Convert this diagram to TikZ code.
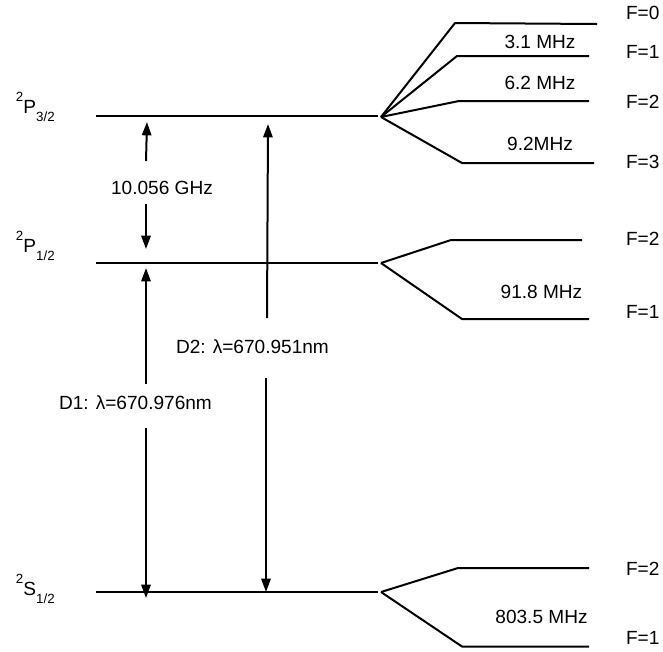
\documentclass[tikz,border=0pt]{standalone}
\usepackage{fontspec}
\setmainfont{Liberation Sans}
\usetikzlibrary{arrows.meta}

\newcommand{\term}[3]{\raisebox{0.6em}{\fontsize{10}{11}\selectfont #1}#2\raisebox{-0.42em}{\fontsize{10}{11}\selectfont #3}}

\begin{document}
\begin{tikzpicture}[x=0.75pt, y=-0.75pt, >={Triangle[length=10pt,width=7pt]},
    line width=1.5pt, line join=round,
    lbl/.style={inner sep=0pt, font=\fontsize{14.3}{16}\selectfont},
    flbl/.style={lbl, anchor=west},
    termlbl/.style={lbl, anchor=base west}]
  \useasboundingbox (0,0) rectangle (663,651);

  % fine structure levels
  \coordinate (p32a) at (96,116);  \coordinate (p32b) at (378,116);
  \coordinate (p12a) at (96,263);  \coordinate (p12b) at (378,263);
  \coordinate (s12a) at (96,592);  \coordinate (s12b) at (378,592);
  \draw (p32a) -- (p32b);
  \draw (p12a) -- (p12b);
  \draw (s12a) -- (s12b);

  \node[termlbl] (p32) at (15,113) {\term{2}{P}{3/2}};
  \node[termlbl] (p12) at (15,252) {\term{2}{P}{1/2}};
  \node[termlbl] (s12) at (15,595) {\term{2}{S}{1/2}};

  % hyperfine splitting of 2P3/2
  \coordinate (p32fan) at (381,117);
  \coordinate (p32F0a) at (455,23);  \coordinate (p32F0b) at (597,24);
  \coordinate (p32F1a) at (457,56);  \coordinate (p32F1b) at (589,56);
  \coordinate (p32F2a) at (459,101); \coordinate (p32F2b) at (589,101);
  \coordinate (p32F3a) at (462,163); \coordinate (p32F3b) at (594,163);
  \foreach \f in {0,...,3}{\draw (p32fan) -- (p32F\f a) -- (p32F\f b);}
  \node[flbl] (p32F0) at (625,12.5) {F=0};
  \node[flbl] (p32F1) at (625,52) {F=1};
  \node[flbl] (p32F2) at (625,102) {F=2};
  \node[flbl] (p32F3) at (625,162) {F=3};
  \node[lbl] (hfa) at (540,41.5) {3.1 MHz};
  \node[lbl] (hfb) at (540,83) {6.2 MHz};
  \node[lbl] (hfc) at (540,143.5) {9.2MHz};

  % hyperfine splitting of 2P1/2
  \coordinate (p12fan) at (381,263);
  \coordinate (p12F2a) at (451,240); \coordinate (p12F2b) at (582,240);
  \coordinate (p12F1a) at (462,319); \coordinate (p12F1b) at (589,319);
  \foreach \f in {1,2}{\draw (p12fan) -- (p12F\f a) -- (p12F\f b);}
  \node[flbl] (p12F2) at (625,239) {F=2};
  \node[flbl] (p12F1) at (625,312) {F=1};
  \node[lbl] (hfd) at (541.5,291.5) {91.8 MHz};

  % hyperfine splitting of 2S1/2
  \coordinate (s12fan) at (381,592);
  \coordinate (s12F2a) at (458,568); \coordinate (s12F2b) at (589,568);
  \coordinate (s12F1a) at (462,646.5); \coordinate (s12F1b) at (589,646.5);
  \foreach \f in {1,2}{\draw (s12fan) -- (s12F\f a) -- (s12F\f b);}
  \node[flbl] (s12F2) at (625,569) {F=2};
  \node[flbl] (s12F1) at (625,638) {F=1};
  \node[lbl] (hfe) at (541.5,617) {803.5 MHz};

  % fine structure splitting
  \node[lbl] (fs) at (162,188) {10.056 GHz};
  \coordinate (fsup) at (146,161);  \coordinate (fsupt) at (147,122);
  \coordinate (fsdn) at (146,204);  \coordinate (fsdnt) at (146,249);
  \draw[->] (fsup) -- (fsupt);
  \draw[->] (fsdn) -- (fsdnt);

  % D1 line
  \node[lbl] (d1) at (135.5,403) {D1: λ=670.976nm};
  \coordinate (d1up) at (146,384);  \coordinate (d1upt) at (146,268);
  \coordinate (d1dn) at (146,428);  \coordinate (d1dnt) at (146,598);
  \draw[->] (d1up) -- (d1upt);
  \draw[->] (d1dn) -- (d1dnt);

  % D2 line
  \node[lbl] (d2) at (252.5,347) {D2: λ=670.951nm};
  \coordinate (d2up) at (267,318);  \coordinate (d2upt) at (268,124);
  \coordinate (d2dn) at (266,378);  \coordinate (d2dnt) at (266,592);
  \draw[->] (d2up) -- (d2upt);
  \draw[->] (d2dn) -- (d2dnt);
\end{tikzpicture}
\end{document}
